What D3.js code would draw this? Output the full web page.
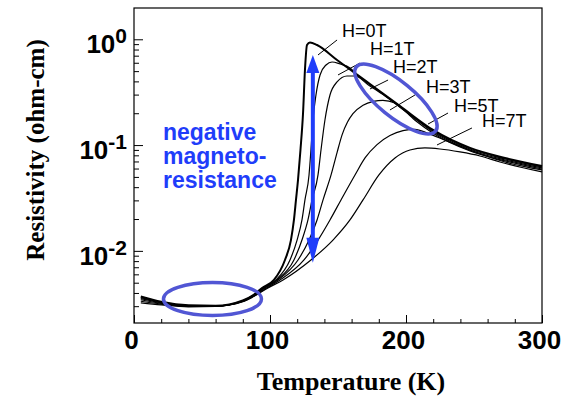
<!DOCTYPE html>
<html>
<head>
<meta charset="utf-8">
<script src="https://cdn.jsdelivr.net/npm/d3@7"></script>
<style>
  body { margin: 0; background: #fff; }
  .tick line { stroke: #000; }
  .domain { stroke: #000; }
</style>
</head>
<body>
<div id="chart"></div>
<script>
// field values (Tesla) and resistivity curves
var fields = ["H=0T", "H=1T", "H=2T", "H=3T", "H=5T", "H=7T"];

var temp_0T = [5, 20, 40, 60, 80, 88, 94.1, 102.9, 111, 115.4, 117.6, 119.1, 120.6, 122.4, 124.3, 125.7, 127.2, 129.4, 134.6, 149.3, 173.5, 195.6, 219.9, 247.1, 272.8, 300];
var rho_0T  = [.0037, .0033, .00306, .00303, .0034, .00385, .00446, .00531, .0082, .01265, .0196, .0303, .0468, .0899, .201, .513, .883, .933, .883, .637, .378, .234, .139, .094, .0755, .0634];

var temp_1T = [5, 20, 40, 60, 80, 88, 94.9, 104.4, 114.7, 119.9, 123.5, 125.7, 128.7, 130.1, 131.6, 133.8, 136.8, 141.2, 145.6, 151.5, 158.8, 164, 180, 195.6, 219.9, 247.1, 272.8, 300];
var rho_1T  = [.00361, .00327, .00304, .00302, .00338, .00382, .00446, .00531, .0082, .01265, .0196, .0303, .0522, .0899, .1726, .2975, .46, .572, .61, .584, .536, .462, .325, .229, .1359, .0918, .074, .0621];

var temp_2T = [5, 20, 40, 60, 80, 88, 95.6, 105.1, 117.6, 123.5, 127.9, 130.9, 135.3, 137.5, 140.4, 144.1, 149.3, 156.6, 162.5, 172.1, 184.6, 202.9, 219.9, 247.1, 272.8, 300];
var rho_2T  = [.00353, .00323, .00302, .00301, .00336, .0038, .00446, .00531, .0082, .01265, .0196, .0303, .0522, .0899, .1726, .2975, .395, .45, .45, .372, .291, .1925, .133, .0899, .0723, .0608];

var temp_3T = [5, 20, 40, 60, 80, 88, 96.3, 105.9, 120.6, 128.7, 134.6, 139, 144.9, 149.3, 153, 157, 161, 168.4, 176, 183, 191.9, 206.6, 219.9, 247.1, 272.8, 300];
var rho_3T  = [.00345, .00319, .003, .003, .00334, .00376, .00446, .00531, .0082, .01265, .0196, .0303, .0522, .085, .125, .165, .198, .238, .259, .265, .25, .172, .1295, .088, .0708, .0594];

var temp_5T = [5, 20, 40, 60, 80, 88, 97.4, 107.4, 125, 135.3, 144.1, 152.2, 162.5, 170, 178.7, 188.2, 197.8, 206.6, 216.2, 228.7, 247.1, 272.8, 300];
var rho_5T  = [.00334, .00314, .00298, .00299, .00332, .00372, .00446, .00531, .0082, .01265, .0196, .0303, .0522, .076, .101, .123, .137, .141, .129, .111, .0893, .0692, .0582];

var temp_7T = [5, 20, 40, 60, 80, 88, 98.5, 109.6, 130.1, 146.3, 158.8, 168.4, 180.1, 191.9, 202.9, 213.9, 225, 239.7, 254.4, 269.1, 300];
var rho_7T  = [.00323, .00309, .00296, .00298, .0033, .0037, .00446, .00531, .0082, .01265, .0196, .0303, .0522, .0755, .0899, .0939, .0918, .0861, .0789, .0692, .0557];

var xTicks = [0, 100, 200, 300];
var yTicks = [1, 0.1, 0.01];
var yTickExp = ["0", "-1", "-2"];

// where the field labels sit (T, rho) and their little leader lines
var labelT   = [152.9, 173.5, 190.4, 214.7, 235.3, 255.9];
var labelRho = [1.051, 0.711, 0.48, 0.311, 0.2055, 0.148];
var leaderFrom = [[149.3, .985], [166.2, .597], [186.8, .412], [206.6, .2975], [230.9, .201], [248.5, .1451]];
var leaderTo   = [[135.3, .711], [150, .46], [173.5, .339], [188.2, .2147], [216.2, .158], [222.8, .1002]];

var temps = [temp_0T, temp_1T, temp_2T, temp_3T, temp_5T, temp_7T];
var rhos  = [rho_0T, rho_1T, rho_2T, rho_3T, rho_5T, rho_7T];

var svgwidth = 573, svgheight = 401;
var margin = {top: 8, right: 31, bottom: 78, left: 134},
    width = svgwidth - margin.left - margin.right,
    height = svgheight - margin.top - margin.bottom;

var x = d3.scaleLinear().domain([0, 300]).range([0, width]);
var y = d3.scaleLog().domain([0.00208, 1.976]).range([height, 0]);

var svg = d3.select("#chart").append("svg")
    .attr("width", svgwidth)
    .attr("height", svgheight)
  .append("g")
    .attr("transform", "translate(" + margin.left + "," + margin.top + ")");

// frame
svg.append("rect")
    .attr("x", 0).attr("y", 0)
    .attr("width", width).attr("height", height)
    .attr("fill", "none")
    .attr("stroke", "#000")
    .attr("stroke-width", 1.2);

// bottom axis: minor every 20 K, major every 100 K, ticks pointing in
var xMinor = d3.range(0, 301, 20).filter(function(d) { return d % 100 != 0; });
svg.append("g")
    .attr("transform", "translate(0," + height + ")")
    .call(d3.axisBottom(x).tickValues(xMinor).tickSize(-4).tickFormat(""))
    .call(g => g.select(".domain").remove());
svg.append("g")
    .attr("class", "x axis")
    .attr("transform", "translate(0," + height + ")")
    .call(d3.axisBottom(x).tickValues(xTicks).tickSize(-8).tickPadding(8))
    .call(g => g.select(".domain").remove())
  .selectAll("text")
    .attr("dx", -3)
    .style("font-family", "'Liberation Sans', Arial, sans-serif")
    .style("font-weight", "bold")
    .style("font-size", "26px")
    .attr("fill", "#000");

// left axis, log minor ticks
var yMinor = [];
[0.001, 0.01, 0.1, 1].forEach(function(dec) {
    for (var k = 2; k <= 9; k++) {
        var v = dec * k;
        if (v >= y.domain()[0] && v <= y.domain()[1]) yMinor.push(v);
    }
});
svg.append("g")
    .call(d3.axisLeft(y).tickValues(yMinor).tickSize(-5).tickFormat(""))
    .call(g => g.select(".domain").remove());
svg.append("g")
    .call(d3.axisLeft(y).tickValues(yTicks).tickSize(-9).tickFormat(""))
    .call(g => g.select(".domain").remove());

var ylab = svg.selectAll(".ylab")
    .data(yTicks)
  .enter().append("text")
    .attr("class", "ylab")
    .attr("x", -7)
    .attr("y", function(d) { return y(d) + 14; })
    .attr("text-anchor", "end")
    .style("font-family", "'Liberation Sans', Arial, sans-serif")
    .style("font-weight", "bold")
    .style("font-size", "26px");
ylab.append("tspan").text("10");
ylab.append("tspan")
    .attr("dy", -10)
    .style("font-size", "21px")
    .text(function(d, i) { return yTickExp[i]; });

// axis titles
svg.append("text")
    .attr("x", 217)
    .attr("y", 382)
    .attr("text-anchor", "middle")
    .style("font-family", "'Liberation Serif', 'Times New Roman', serif")
    .style("font-weight", "bold")
    .style("font-size", "26px")
    .text("Temperature (K)");

svg.append("text")
    .attr("transform", "translate(-90," + 142 + ") rotate(-90)")
    .attr("text-anchor", "middle")
    .style("font-family", "'Liberation Serif', 'Times New Roman', serif")
    .style("font-weight", "bold")
    .style("font-size", "25px")
    .text("Resistivity (ohm-cm)");

// curves
var line = d3.line()
    .x(function(d) { return x(d[0]); })
    .y(function(d) { return y(d[1]); })
    .curve(d3.curveMonotoneX);

var curves = fields.map(function(f, i) {
    return temps[i].map(function(t, j) { return [t, rhos[i][j]]; });
});

svg.selectAll(".curve")
    .data(curves)
  .enter().append("path")
    .attr("class", "curve")
    .attr("d", line)
    .attr("fill", "none")
    .attr("stroke", "#000")
    .attr("stroke-width", function(d, i) { return i == 0 ? 2 : 1.2; });

// field labels + leaders
svg.selectAll(".leader")
    .data(fields)
  .enter().append("line")
    .attr("x1", function(d, i) { return x(leaderFrom[i][0]); })
    .attr("y1", function(d, i) { return y(leaderFrom[i][1]); })
    .attr("x2", function(d, i) { return x(leaderTo[i][0]); })
    .attr("y2", function(d, i) { return y(leaderTo[i][1]); })
    .attr("stroke", "#000")
    .attr("stroke-width", 1);

svg.selectAll(".hlab")
    .data(fields)
  .enter().append("text")
    .attr("x", function(d, i) { return x(labelT[i]); })
    .attr("y", function(d, i) { return y(labelRho[i]); })
    .style("font-family", "'Liberation Sans', Arial, sans-serif")
    .style("font-size", "18px")
    .text(function(d) { return d; });

// blue annotations
var ellBlue = "#5156d4", arrowBlue = "#1f3dfa";

svg.append("ellipse")
    .attr("cx", x(57.7)).attr("cy", y(0.00351))
    .attr("rx", 49).attr("ry", 16.5)
    .attr("fill", "none")
    .attr("stroke", ellBlue)
    .attr("stroke-width", 3.5);

svg.append("ellipse")
    .attr("transform", "translate(" + x(192.6) + "," + y(0.2727) + ") rotate(39)")
    .attr("rx", 51).attr("ry", 17.5)
    .attr("fill", "none")
    .attr("stroke", ellBlue)
    .attr("stroke-width", 3.5);

// double headed arrow between H=0 peak and H=7T curve
var ax = x(131.5), aTop = y(0.71), aBot = y(0.0077);
svg.append("line")
    .attr("x1", ax).attr("x2", ax)
    .attr("y1", aTop + 12).attr("y2", aBot - 12)
    .attr("stroke", arrowBlue)
    .attr("stroke-width", 4);
svg.append("path")
    .attr("d", "M" + ax + "," + aTop + "L" + (ax - 6.5) + "," + (aTop + 18) + "L" + (ax + 6.5) + "," + (aTop + 18) + "Z")
    .attr("fill", arrowBlue);
svg.append("path")
    .attr("d", "M" + ax + "," + aBot + "L" + (ax - 6.5) + "," + (aBot - 25) + "L" + (ax + 6.5) + "," + (aBot - 25) + "Z")
    .attr("fill", arrowBlue);

// text block, one line per element
svg.selectAll(".mrtext")
    .data(["negative", "magneto-", "resistance"])
  .enter().append("text")
    .attr("class", "mrtext")
    .attr("x", x(21.3))
    .attr("y", function(d, i) { return y(0.1117) + i * 24; })
    .style("font-family", "'Liberation Sans', Arial, sans-serif")
    .style("font-weight", "bold")
    .style("font-size", "23px")
    .attr("fill", arrowBlue)
    .text(function(d) { return d; });
</script>
</body>
</html>
